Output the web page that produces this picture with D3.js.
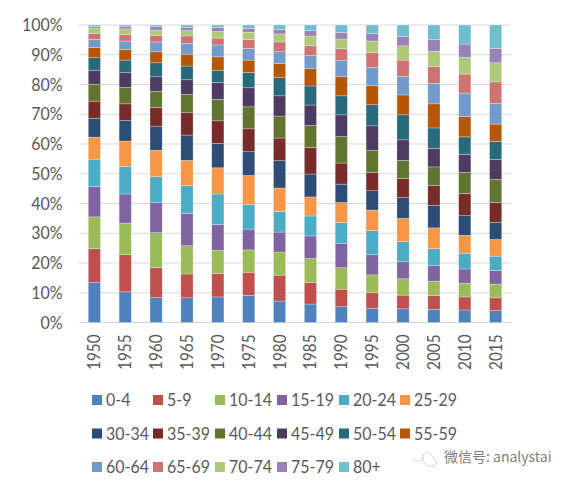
<!DOCTYPE html>
<html><head><meta charset="utf-8">
<script src="https://cdn.jsdelivr.net/npm/d3@7"></script>
<style>html,body{margin:0;padding:0;background:#fff}svg{display:block}
text{font-family:Lato,"Open Sans",sans-serif;fill:#595959}</style></head>
<body><svg id="c" width="571" height="484"></svg>
<script>
const years = [1950,1955,1960,1965,1970,1975,1980,1985,1990,1995,2000,2005,2010,2015];
const ageGroups = ["0-4","5-9","10-14","15-19","20-24","25-29","30-34","35-39","40-44","45-49","50-54","55-59","60-64","65-69","70-74","75-79","80+"];
const colors = ["#4F81BD","#C0504D","#9BBB59","#8064A2","#4BACC6","#F79646","#2C4D75","#772C2A","#5F7530","#4D3B62","#276A7C","#B65708","#729ACA","#CD7371","#AFC97A","#9983B5","#6FBDD1"];
const yTicks = [0,.1,.2,.3,.4,.5,.6,.7,.8,.9,1];
const age0 = [13.4,10.3,8.4,8.3,8.6,9.1,7.2,6.2,5.3,4.8,4.6,4.4,4.2,4.0];
const age5 = [11.4,12.5,10,8,7.8,7.8,8.7,7.2,5.9,5.2,4.6,4.6,4.4,4.3];
const age10 = [10.7,10.6,11.8,9.5,7.8,7.5,7.8,8.1,7.2,6,5.5,4.9,4.6,4.6];
const age15 = [10.2,9.8,10.1,10.9,8.7,7,6.7,7.6,8.1,6.8,5.7,5.2,4.8,4.6];
const age20 = [9.2,9.3,8.7,9.3,10.3,8.2,6.9,6.7,7.1,8.1,6.8,5.7,5.3,4.8];
const age25 = [7.4,8.5,8.9,8.5,8.8,9.8,7.9,6.4,6.7,6.9,7.8,7,6,5.6];
const age30 = [6.3,6.9,8.1,8.5,8.2,8,9.2,7.7,6.2,6.5,7,7.6,6.6,5.8];
const age35 = [5.8,5.6,6.3,7.5,7.6,7.7,7.6,8.9,7.1,6.1,6.4,6.7,7.5,6.7];
const age40 = [5.7,5.5,5.4,6.2,7.2,7.4,7.4,7.4,8.9,7.4,6.1,6.2,7,7.7];
const age45 = [4.7,5,4.9,4.9,5.7,6.4,6.8,6.9,7.3,8.3,6.9,6.2,6.1,6.7];
const age50 = [4.2,4.2,4.7,4.6,4.1,5.1,6.1,6.4,6.4,7.1,8.4,6.9,5.9,6.1];
const age55 = [3.4,3.6,3.7,4,4.5,4.2,4.7,5.8,6.4,6.4,6.7,8.1,6.8,5.8];
const age60 = [2.8,2.8,3.3,3.6,4,3.9,4,4.4,5.4,6.1,6.2,6.9,7.9,6.9];
const age65 = [2,2.1,2.2,2.5,2.3,3.1,3.3,3.3,4,5,5.5,5.6,6.4,7.3];
const age70 = [1.8,2,1.8,1.8,2.2,2.4,2.7,3.3,3.3,3.9,4.8,5.2,5.6,6.4];
const age75 = [.5,.7,1.1,1.1,1.4,1.3,1.5,1.8,2.2,2.5,3.1,3.9,4.5,4.8];
const age80 = [.5,.6,.6,.8,.8,1.1,1.5,1.9,2.5,2.9,3.9,4.9,6.4,7.9];
const seriesValues = [age0,age5,age10,age15,age20,age25,age30,age35,age40,age45,age50,age55,age60,age65,age70,age75,age80];

const table = years.map((yr,i)=>{const o={year:yr};ageGroups.forEach((a,j)=>o[a]=seriesValues[j][i]);return o;});
const stack = d3.stack().keys(ageGroups).offset(d3.stackOffsetExpand)(table);

const svg = d3.select("#c");
const x = d3.scaleBand().domain(years).range([79,511]).paddingInner(0.605).paddingOuter(0.3);
const y = d3.scaleLinear().domain([0,1]).range([322.5,25]);
const fs = 17, narrow = 0.94, narrowYears = 0.9;

svg.append("g").selectAll("line").data(yTicks).join("line")
  .attr("x1",79).attr("x2",511).attr("y1",d=>y(d)).attr("y2",d=>y(d))
  .attr("stroke","#D9D9D9").attr("stroke-width",1);

svg.append("g").selectAll("g").data(stack).join("g").attr("fill",(d,i)=>colors[i])
  .selectAll("rect").data(d=>d).join("rect")
  .attr("x",d=>x(d.data.year)).attr("width",x.bandwidth())
  .attr("y",d=>y(d[1])).attr("height",d=>y(d[0])-y(d[1]))
  .attr("stroke","#fff").attr("stroke-opacity",.45).attr("stroke-width",.6);

svg.append("g").selectAll("text").data(yTicks).join("text")
  .attr("transform",d=>`translate(62.5,${y(d)+6}) scale(${narrow},1)`).attr("text-anchor","end")
  .attr("font-size",fs).text(d=>d3.format(".0%")(d));

svg.append("g").selectAll("text").data(years).join("text")
  .attr("transform",d=>`translate(${x(d)+x.bandwidth()/2+6},334.5) rotate(-90) scale(${narrowYears},1)`)
  .attr("text-anchor","end").attr("font-size",fs).text(d=>d);

const legendX = [92,153,215,277,339,400], legendY = [400,433.5,467];
const lg = svg.append("g").selectAll("g").data(ageGroups).join("g")
  .attr("transform",(d,i)=>`translate(${legendX[i%6]},${legendY[Math.floor(i/6)]})`);
lg.append("rect").attr("x",0).attr("y",-5).attr("width",10).attr("height",10).attr("fill",(d,i)=>colors[i]);
lg.append("text").attr("transform",`translate(14,6) scale(${narrow},1)`).attr("font-size",fs).text(d=>d);

const wm = svg.append("g").attr("fill","none").attr("stroke","#8f8f8f").attr("stroke-width",.7).attr("stroke-dasharray","1.2 1");
wm.append("path").attr("d","M413 459 C417 463 421 461 423 457 C424 454 426 451 428 452 C430 454 433 456 434 458 M423 457 C422 461 425 466 429 466 C433 467 436 465 437 463 M434 458 C435 460 436 461 437 463");
svg.append("text").attr("x",444).attr("y",462).attr("font-size",14)
  .style("font-family",'"Noto Sans CJK SC",sans-serif').style("fill","#808080").text("微信号: analystai");
</script></body></html>
